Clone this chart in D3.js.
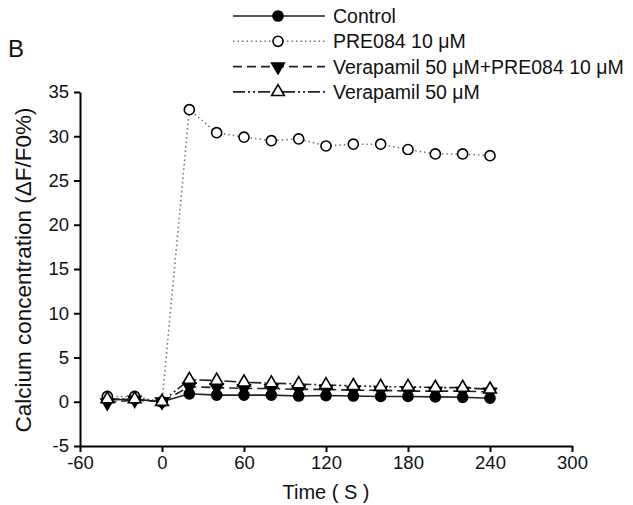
<!DOCTYPE html>
<html>
<head>
<meta charset="utf-8">
<script src="https://cdn.jsdelivr.net/npm/d3@7"></script>
<style>
  body { margin: 0; background: #fff; }
  text { font-family: "Liberation Sans", Arial, sans-serif; }
</style>
</head>
<body>
<svg id="chart" width="633" height="505"></svg>
<script>
// 数据
const times = [-40, -20, 0, 20, 40, 60, 80, 100, 120, 140, 160, 180, 200, 220, 240];
const control = [0.2, 0.3, 0, 0.9, 0.75, 0.75, 0.75, 0.65, 0.7, 0.65, 0.6, 0.6, 0.55, 0.5, 0.4];
const pre084 = [0.6, 0.6, 0, 33.0, 30.4, 29.9, 29.5, 29.7, 28.9, 29.1, 29.1, 28.5, 28.0, 28.0, 27.8];
const veraPre = [-0.1, 0.2, 0, 1.7, 1.6, 1.5, 1.5, 1.4, 1.4, 1.3, 1.3, 1.2, 1.2, 1.2, 1.1];
const vera = [0.3, 0.3, 0, 2.5, 2.4, 2.2, 2.1, 2.0, 1.9, 1.8, 1.7, 1.7, 1.6, 1.6, 1.4];
const xTicks = [-60, 0, 60, 120, 180, 240, 300];
const yTicks = [-5, 0, 5, 10, 15, 20, 25, 30, 35];

const series = [
  { name: "Control", values: control, dash: null, marker: "circle", fill: "#000" },
  { name: "PRE084 10 \u03bcM", values: pre084, dash: "1.5,3", marker: "circle", fill: "#fff" },
  { name: "Verapamil 50 \u03bcM+PRE084 10 \u03bcM", values: veraPre, dash: "9,5", marker: "down", fill: "#000" },
  { name: "Verapamil 50 \u03bcM", values: vera, dash: "12,3,2,3,2,3", marker: "up", fill: "#fff" },
];

const svg = d3.select("#chart");
const x = d3.scaleLinear().domain([-60, 300]).range([80, 572]);
const y = d3.scaleLinear().domain([-5, 35]).range([446, 92]);

// 坐标轴
svg.append("g")
  .attr("transform", "translate(0,446)")
  .call(d3.axisBottom(x).tickValues(xTicks).tickFormat((d) => d).tickSize(6).tickSizeOuter(0).tickPadding(4))
  .call((g) => {
    g.select(".domain").attr("stroke-width", 2);
    g.selectAll(".tick line").attr("stroke-width", 2);
    g.selectAll("text").attr("font-size", 18.5).attr("fill", "#111");
  });

svg.append("g")
  .attr("transform", "translate(80,0)")
  .call(d3.axisLeft(y).tickValues(yTicks).tickFormat((d) => d).tickSize(6).tickSizeOuter(0).tickPadding(5))
  .call((g) => {
    g.select(".domain").attr("stroke-width", 2);
    g.selectAll(".tick line").attr("stroke-width", 2);
    g.selectAll("text").attr("font-size", 18.5).attr("fill", "#111");
  });

svg.append("text")
  .attr("x", 326).attr("y", 499)
  .attr("text-anchor", "middle")
  .attr("font-size", 20)
  .attr("fill", "#111")
  .text("Time ( S )");

svg.append("text")
  .attr("transform", "translate(31,270) rotate(-90)")
  .attr("text-anchor", "middle")
  .attr("font-size", 22.5)
  .attr("fill", "#111")
  .text("Calcium concentration (\u0394F/F0%)");

svg.append("text")
  .attr("x", 8).attr("y", 57)
  .attr("font-size", 24)
  .attr("fill", "#111")
  .text("B");

// 标记
const sym = {
  circle: d3.symbol().type(d3.symbolCircle).size(80),
  up: d3.symbol().type(d3.symbolTriangle).size(70),
};
function drawMarker(g, s) {
  if (s.marker === "circle") {
    g.append("path").attr("d", sym.circle());
  } else if (s.marker === "up") {
    g.append("path").attr("d", sym.up());
  } else {
    g.append("path").attr("d", sym.up()).attr("transform", "rotate(180)");
  }
  g.selectAll("path")
    .attr("fill", s.fill)
    .attr("stroke", "#000")
    .attr("stroke-width", 1.6);
}

const line = d3.line().x((d) => x(d[0])).y((d) => y(d[1]));

// 先画线后画点
series.forEach((s) => {
  svg.append("path")
    .datum(times.map((t, i) => [t, s.values[i]]))
    .attr("d", line)
    .attr("fill", "none")
    .attr("stroke", s.dash === "1.5,3" ? "#777" : "#222")
    .attr("stroke-width", 1.6)
    .attr("stroke-dasharray", s.dash);
});

series.forEach((s) => {
  svg.append("g")
    .selectAll("g")
    .data(times.map((t, i) => [t, s.values[i]]))
    .join("g")
    .attr("transform", (d) => `translate(${x(d[0])},${y(d[1])})`)
    .each(function () { drawMarker(d3.select(this), s); });
});

// 图例
const legend = svg.append("g").attr("transform", "translate(233,16)");
legend.selectAll("g")
  .data(series)
  .join("g")
  .attr("transform", (_, i) => `translate(0,${i * 25.3})`)
  .each(function (s) {
    const g = d3.select(this);
    g.append("line")
      .attr("x1", 0).attr("x2", 92)
      .attr("stroke", s.dash === "1.5,3" ? "#777" : "#222")
      .attr("stroke-width", 1.6)
      .attr("stroke-dasharray", s.dash);
    drawMarker(g.append("g").attr("transform", "translate(45,0)"), s);
    g.append("text")
      .attr("x", 100).attr("y", 7)
      .attr("font-size", 19.5)
      .attr("fill", "#111")
      .text(s.name);
  });
</script>
</body>
</html>
